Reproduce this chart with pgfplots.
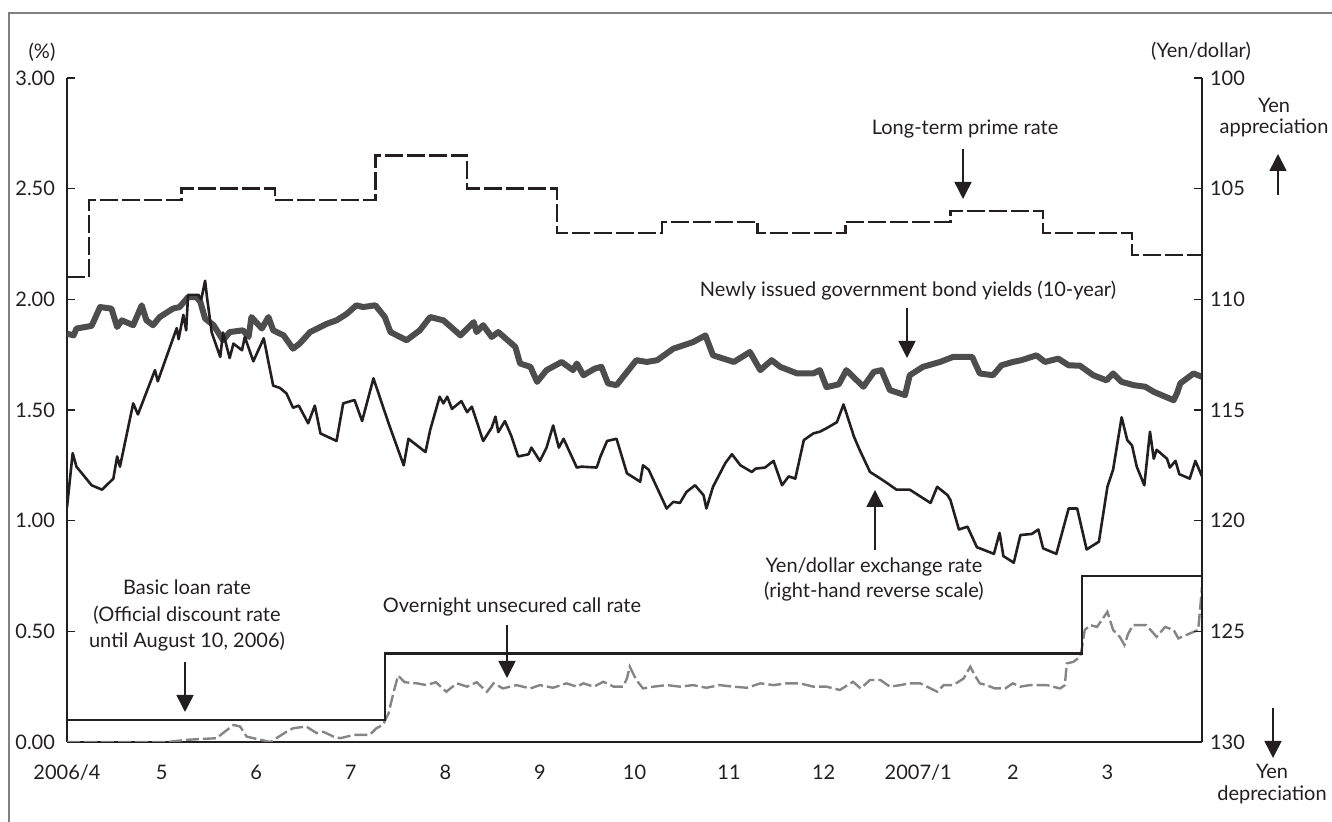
\documentclass[border=0pt]{standalone}
\usepackage{fontspec}
\setmainfont{Lato}
\usepackage{pgfplots}
\usepackage{pgfplotstable}
\pgfplotsset{compat=1.18}
\usetikzlibrary{arrows.meta}

\definecolor{ink}{HTML}{231F20}
\definecolor{bondgray}{HTML}{4D4D4D}
\definecolor{callgray}{HTML}{858585}
\definecolor{framegray}{HTML}{808080}

% x = months since 2006/4/1
\pgfplotstableread{
m v
0 2.10
0.23 2.45
1.21 2.50
2.20 2.45
3.26 2.65
4.23 2.50
5.18 2.30
6.29 2.35
7.30 2.30
8.23 2.35
9.34 2.40
10.32 2.30
11.26 2.20
12 2.20
}\primerate

\pgfplotstableread{
m v
0 0.10
3.36 0.40
10.73 0.75
12 0.75
}\basicloan

\pgfplotstableread{
m v
0.00 0.00
1.06 0.00
1.27 0.01
1.58 0.017
1.76 0.077
1.83 0.07
1.90 0.024
2.15 0.00
2.32 0.046
2.39 0.062
2.53 0.07
2.64 0.04
2.71 0.046
2.82 0.024
2.89 0.017
3.03 0.032
3.20 0.032
3.27 0.062
3.34 0.077
3.40 0.13
3.45 0.22
3.50 0.30
3.57 0.27
3.70 0.265
3.80 0.257
3.90 0.27
4.01 0.227
4.12 0.265
4.23 0.25
4.33 0.27
4.44 0.227
4.51 0.265
4.61 0.242
4.75 0.257
4.90 0.242
5.00 0.257
5.14 0.245
5.28 0.265
5.39 0.25
5.46 0.265
5.57 0.25
5.67 0.272
5.78 0.25
5.88 0.25
5.92 0.287
5.95 0.34
6.02 0.28
6.09 0.242
6.20 0.25
6.34 0.257
6.48 0.25
6.62 0.257
6.76 0.245
6.90 0.257
7.04 0.25
7.19 0.245
7.33 0.265
7.47 0.257
7.61 0.265
7.75 0.265
7.89 0.25
8.03 0.25
8.17 0.235
8.31 0.272
8.39 0.242
8.49 0.28
8.60 0.28
8.70 0.25
8.81 0.257
8.91 0.265
9.02 0.265
9.13 0.242
9.20 0.227
9.27 0.257
9.37 0.257
9.48 0.287
9.55 0.34
9.60 0.30
9.65 0.265
9.72 0.257
9.81 0.242
9.92 0.242
10.00 0.265
10.08 0.25
10.18 0.257
10.29 0.257
10.36 0.257
10.50 0.242
10.55 0.257
10.57 0.355
10.64 0.362
10.71 0.385
10.73 0.423
10.76 0.506
10.82 0.528
10.89 0.52
11.00 0.588
11.06 0.506
11.13 0.475
11.18 0.438
11.22 0.49
11.27 0.528
11.41 0.528
11.49 0.49
11.52 0.475
11.61 0.52
11.70 0.506
11.75 0.468
11.87 0.49
11.96 0.506
12.00 0.70
}\callrate

\pgfplotstableread{
m v
0.00 1.845
0.07 1.837
0.10 1.868
0.26 1.88
0.35 1.965
0.47 1.958
0.53 1.875
0.58 1.905
0.70 1.883
0.79 1.973
0.84 1.905
0.91 1.883
0.98 1.92
1.12 1.958
1.19 1.965
1.28 2.01
1.37 2.01
1.41 1.988
1.46 1.913
1.55 1.883
1.65 1.815
1.72 1.852
1.86 1.86
1.92 1.83
1.95 1.92
2.06 1.868
2.13 1.92
2.18 1.86
2.29 1.837
2.39 1.777
2.46 1.80
2.57 1.852
2.75 1.89
2.85 1.905
2.96 1.935
3.06 1.973
3.13 1.965
3.26 1.973
3.36 1.92
3.42 1.852
3.59 1.815
3.73 1.86
3.84 1.92
3.98 1.905
4.16 1.837
4.30 1.897
4.33 1.852
4.40 1.883
4.49 1.83
4.56 1.852
4.74 1.785
4.79 1.71
4.90 1.695
4.97 1.627
5.07 1.68
5.23 1.717
5.35 1.68
5.39 1.71
5.46 1.657
5.58 1.687
5.65 1.695
5.72 1.62
5.81 1.612
6.02 1.725
6.13 1.717
6.24 1.725
6.41 1.777
6.62 1.807
6.75 1.837
6.83 1.747
7.05 1.717
7.22 1.762
7.33 1.68
7.45 1.725
7.54 1.695
7.72 1.665
7.89 1.665
7.96 1.68
8.03 1.603
8.16 1.616
8.24 1.68
8.42 1.605
8.53 1.672
8.61 1.68
8.70 1.59
8.86 1.567
8.91 1.657
9.05 1.695
9.23 1.717
9.37 1.74
9.57 1.74
9.65 1.665
9.79 1.657
9.88 1.702
10.00 1.717
10.09 1.725
10.25 1.747
10.34 1.717
10.48 1.732
10.59 1.702
10.71 1.70
10.85 1.657
10.99 1.634
11.06 1.665
11.15 1.627
11.28 1.612
11.40 1.605
11.49 1.582
11.70 1.544
11.74 1.58
11.77 1.62
11.91 1.665
12.00 1.65
}\bondyield

\pgfplotstableread{
m v
0.00 119.4
0.06 116.95
0.10 117.56
0.26 118.4
0.37 118.6
0.49 118.1
0.53 117.1
0.56 117.56
0.70 114.7
0.75 115.2
0.93 113.2
0.96 113.7
1.16 111.3
1.18 111.8
1.23 110.7
1.26 111.4
1.28 109.8
1.39 109.8
1.42 110.0
1.46 109.16
1.48 109.9
1.53 111.5
1.62 112.6
1.65 111.5
1.72 112.65
1.76 112.0
1.85 112.3
1.88 111.7
1.97 112.8
2.08 111.76
2.18 113.9
2.25 114.0
2.32 114.25
2.39 114.9
2.45 114.8
2.55 115.6
2.62 114.8
2.68 116.06
2.85 116.4
2.92 114.7
3.04 114.55
3.12 115.5
3.24 113.57
3.40 115.6
3.56 117.5
3.61 116.3
3.79 116.9
3.84 115.9
3.94 114.4
3.98 114.7
4.02 114.4
4.07 114.95
4.17 114.6
4.23 115.1
4.28 114.85
4.40 116.4
4.49 115.8
4.53 115.3
4.56 116.0
4.63 115.5
4.70 116.2
4.77 117.1
4.88 117.0
4.91 116.7
5.00 117.3
5.07 116.7
5.14 115.7
5.20 116.7
5.25 116.3
5.39 117.6
5.44 117.56
5.60 117.6
5.64 117.1
5.71 116.4
5.81 116.3
5.92 117.86
6.06 118.24
6.09 117.5
6.15 117.7
6.34 119.45
6.41 119.15
6.48 119.2
6.55 118.7
6.64 118.4
6.73 118.85
6.76 119.45
6.83 118.47
6.96 117.4
7.03 117.0
7.12 117.5
7.24 117.8
7.28 117.65
7.38 117.6
7.47 117.3
7.56 118.4
7.63 118.0
7.70 118.1
7.79 116.36
7.89 116.06
7.96 115.98
8.04 115.8
8.14 115.55
8.21 114.75
8.32 116.2
8.38 116.8
8.49 117.8
8.60 118.1
8.67 118.3
8.77 118.6
8.91 118.6
9.02 118.9
9.13 119.2
9.20 118.47
9.31 118.85
9.34 119.07
9.43 120.4
9.52 120.27
9.62 121.2
9.80 121.5
9.86 120.55
9.90 121.6
10.01 121.9
10.08 120.65
10.20 120.6
10.27 120.4
10.32 121.25
10.46 121.5
10.59 119.45
10.68 119.45
10.78 121.3
10.91 120.95
11.00 118.47
11.06 117.7
11.15 115.33
11.21 116.36
11.26 116.6
11.31 117.56
11.39 118.4
11.45 115.98
11.49 117.2
11.52 116.8
11.63 117.2
11.66 117.6
11.72 117.3
11.76 117.9
11.87 118.1
11.93 117.3
12.00 118.0
}\yendollar

\pgfplotsset{
  base/.style={
    at={(33.5pt,40pt)}, anchor=south west,
    scale only axis, width=567.5pt, height=332pt,
    xmin=0, xmax=12,
    tick align=inside, major tick length=4pt,
    every tick/.style={ink, line width=0.7pt},
    axis line style={ink, line width=0.75pt, -},
    tick label style={text=ink},
    /pgf/number format/assume math mode=true,
  }
}

\begin{document}
\begin{tikzpicture}
\path[use as bounding box] (0,0) rectangle (666pt,411pt);

\begin{axis}[base,
  ymin=0, ymax=3,
  axis x line*=bottom, axis y line*=left,
  xtick={0,...,11},
  xticklabels={2006/4,5,6,7,8,9,10,11,12,2007/1,2,3},
  x tick style={draw=none},
  xticklabel style={yshift=-8pt},
  ytick={0,0.5,...,3},
  yticklabel style={/pgf/number format/fixed, /pgf/number format/fixed zerofill,
    /pgf/number format/precision=2, xshift=-2.5pt},
]
\addplot[const plot, ink, line width=1.2pt, dash pattern=on 9pt off 2pt] table[x=m,y=v] {\primerate};
\addplot[callgray, line width=1.2pt, dash pattern=on 6.5pt off 2pt] table[x=m,y=v] {\callrate};
\addplot[const plot, ink, line width=1.3pt] table[x=m,y=v] {\basicloan};
\addplot[bondgray, line width=3pt, line join=round] table[x=m,y=v] {\bondyield};
\end{axis}

\begin{axis}[base,
  ymin=100, ymax=130, y dir=reverse,
  axis x line=none, axis y line*=right,
  xtick=\empty,
  ytick={100,105,...,130},
  yticklabel style={xshift=0.5pt},
]
\addplot[ink, line width=1.3pt, line join=round] table[x=m,y=v] {\yendollar};
\end{axis}

\begin{scope}[x=0.5pt, y=-0.5pt, yshift=411pt, text=ink,
  arr/.style={ink, line width=0.8pt, -{Triangle[length=8.5pt,width=8.5pt]}}]
  \draw[framegray, line width=0.8pt] (1332,13) -- (9,13) -- (9,822);

  \node[anchor=base] at (42,59) {(\%)};
  \node[anchor=base] at (1201,58) {(Yen/dollar)};

  \node[anchor=base] at (1274,113) {Yen};
  \node[anchor=base] at (1274,134) {appreciation};
  \draw[arr] (1278,195) -- (1278,154);

  \node[anchor=base] at (1272,779) {Yen};
  \node[anchor=base] at (1272,801) {depreciation};
  \draw[arr] (1273,708) -- (1273,758);

  \node[anchor=base] at (965,135) {Long-term prime rate};
  \draw[arr] (963,149) -- (963,199);

  \node[anchor=base] at (908,297) {Newly issued government bond yields (10-year)};
  \draw[arr] (907,308) -- (907,358);

  \node[anchor=base] at (874,573) {Yen/dollar exchange rate};
  \node[anchor=base] at (874,598) {(right-hand reverse scale)};
  \draw[arr] (875,550) -- (875,490);

  \node[anchor=base] at (187,595) {Basic loan rate};
  \node[anchor=base] at (187,622) {(Official discount rate};
  \node[anchor=base] at (187,648) {until August 10, 2006)};
  \draw[arr] (185,662) -- (185,712);

  \node[anchor=base] at (512,613) {Overnight unsecured call rate};
  \draw[arr] (507,625) -- (507,678);
\end{scope}
\end{tikzpicture}
\end{document}
